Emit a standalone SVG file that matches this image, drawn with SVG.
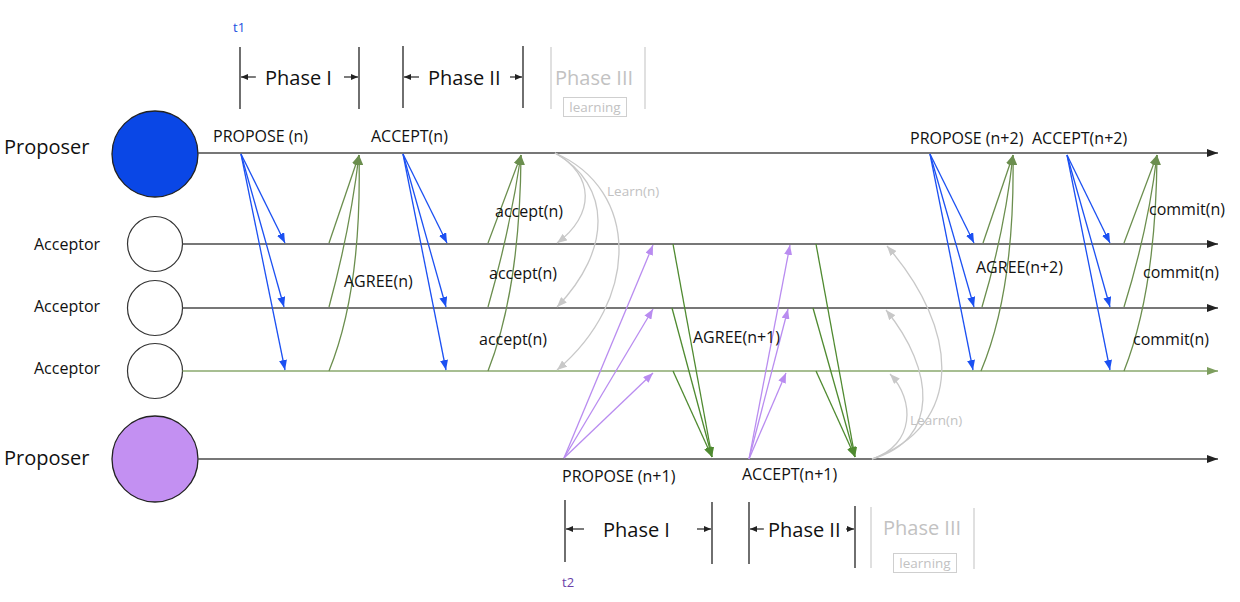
<svg xmlns="http://www.w3.org/2000/svg" width="1240" height="602" viewBox="0 0 1240 602">
<style>
text{font-family:"Open Sans","Liberation Sans",sans-serif;fill:#111}
.lbl{font-size:16px}
.big{font-size:20px}
.gry{fill:#c2c2c2}
.sm{font-size:13.5px}
.life{fill:none;stroke:#4a4a4a;stroke-width:1.4;marker-end:url(#mk)}
.bl{fill:none;stroke:#1b50f2;stroke-width:1.3;marker-end:url(#mb)}
.gr{fill:none;stroke:#6b8e4e;stroke-width:1.3;marker-end:url(#mg)}
.dg{fill:none;stroke:#4f8a30;stroke-width:1.3;marker-end:url(#md)}
.pu{fill:none;stroke:#b98cf0;stroke-width:1.3;marker-end:url(#mp)}
.gy{fill:none;stroke:#c8c8c8;stroke-width:1.3;marker-end:url(#my)}
.bar{stroke:#222;stroke-width:1.3}
.gbar{stroke:#cfcfcf;stroke-width:1.3}
.pa{stroke:#222;stroke-width:1.2;marker-end:url(#ms)}
</style>
<defs>
<marker id="mk" markerUnits="userSpaceOnUse" markerWidth="11" markerHeight="8" refX="11" refY="4" orient="auto"><path d="M0,0L11,4L0,8z" fill="#222"/></marker>
<marker id="mb" markerUnits="userSpaceOnUse" markerWidth="10" markerHeight="8" refX="10" refY="4" orient="auto"><path d="M0,0L10,4L0,8z" fill="#1b50f2"/></marker>
<marker id="mg" markerUnits="userSpaceOnUse" markerWidth="10" markerHeight="8" refX="10" refY="4" orient="auto"><path d="M0,0L10,4L0,8z" fill="#6b8e4e"/></marker>
<marker id="md" markerUnits="userSpaceOnUse" markerWidth="10" markerHeight="8" refX="10" refY="4" orient="auto"><path d="M0,0L10,4L0,8z" fill="#4f8a30"/></marker>
<marker id="mp" markerUnits="userSpaceOnUse" markerWidth="10" markerHeight="8" refX="10" refY="4" orient="auto"><path d="M0,0L10,4L0,8z" fill="#b98cf0"/></marker>
<marker id="my" markerUnits="userSpaceOnUse" markerWidth="10" markerHeight="8" refX="10" refY="4" orient="auto"><path d="M0,0L10,4L0,8z" fill="#c8c8c8"/></marker>
<marker id="ml" markerUnits="userSpaceOnUse" markerWidth="11" markerHeight="8" refX="11" refY="4" orient="auto"><path d="M0,0L11,4L0,8z" fill="#7d9e5e"/></marker>
<marker id="ms" markerUnits="userSpaceOnUse" markerWidth="7" markerHeight="6" refX="7" refY="3" orient="auto"><path d="M0,0L7,3L0,6z" fill="#222"/></marker>
</defs>
<rect width="1240" height="602" fill="#fff"/>

<g id="phases-top">
<text x="233" y="32" font-size="13" style="fill:#2050e0">t1</text>
<line class="bar" x1="240" y1="47" x2="240" y2="109"/>
<line class="bar" x1="359" y1="47" x2="359" y2="109"/>
<line class="pa" x1="256" y1="77" x2="241" y2="77"/>
<line class="pa" x1="344" y1="77" x2="358" y2="77"/>
<text class="big" x="265" y="85">Phase I</text>
<line class="bar" x1="403" y1="46" x2="403" y2="108"/>
<line class="bar" x1="523" y1="46" x2="523" y2="108"/>
<line class="pa" x1="419" y1="77" x2="404" y2="77"/>
<line class="pa" x1="510" y1="77" x2="522" y2="77"/>
<text class="big" x="428" y="85">Phase II</text>
<line class="gbar" x1="551" y1="47" x2="551" y2="109"/>
<line class="gbar" x1="645" y1="47" x2="645" y2="109"/>
<text class="big gry" x="555" y="85">Phase III</text>
<rect x="563.5" y="97.5" width="63" height="19" fill="none" stroke="#cfcfcf" stroke-width="1"/>
<text class="sm gry" x="595" y="112" text-anchor="middle">learning</text>
</g>

<g id="phases-bottom">
<line class="bar" x1="565" y1="500" x2="565" y2="562"/>
<line class="bar" x1="712" y1="502" x2="712" y2="564"/>
<line class="pa" x1="584" y1="529" x2="566" y2="529"/>
<line class="pa" x1="697" y1="529" x2="711" y2="529"/>
<text class="big" x="603" y="537">Phase I</text>
<line class="bar" x1="749" y1="502" x2="749" y2="564"/>
<line class="bar" x1="855" y1="506" x2="855" y2="568"/>
<line class="pa" x1="764" y1="529" x2="750" y2="529"/>
<line class="pa" x1="846" y1="529" x2="854" y2="529"/>
<text class="big" x="768" y="537">Phase II</text>
<line class="gbar" x1="871" y1="507" x2="871" y2="568"/>
<line class="gbar" x1="974" y1="508" x2="974" y2="569"/>
<text class="big gry" x="883" y="535">Phase III</text>
<rect x="893.5" y="553.5" width="63" height="19" fill="none" stroke="#cfcfcf" stroke-width="1"/>
<text class="sm gry" x="925" y="568" text-anchor="middle">learning</text>
<text x="562" y="587" font-size="13" style="fill:#6b3fa8">t2</text>
</g>

<g id="proposer1">
<text x="4" y="154" class="big">Proposer</text>
<circle cx="155" cy="154" r="43" fill="#0a47e6" stroke="#222" stroke-width="1.3"/>
</g>
<g id="acceptor1">
<text x="34" y="250" class="lbl">Acceptor</text>
<circle cx="155" cy="244" r="27.5" fill="#fff" stroke="#333" stroke-width="1.2"/>
</g>
<g id="acceptor2">
<text x="34" y="312" class="lbl">Acceptor</text>
<circle cx="155" cy="308" r="27.5" fill="#fff" stroke="#333" stroke-width="1.2"/>
</g>
<g id="acceptor3">
<text x="34" y="374" class="lbl">Acceptor</text>
<circle cx="155" cy="371" r="27.5" fill="#fff" stroke="#333" stroke-width="1.2"/>
</g>
<g id="proposer2">
<text x="4" y="465" class="big">Proposer</text>
<circle cx="155" cy="459" r="43" fill="#c390f2" stroke="#222" stroke-width="1.3"/>
</g>

<g id="connectors">
<g id="lifelines">
<line class="life" x1="198" y1="153" x2="1218" y2="153"/>
<line class="life" x1="182.5" y1="244" x2="1218" y2="244"/>
<line class="life" x1="182.5" y1="308" x2="1218" y2="308"/>
<line x1="182.5" y1="371" x2="1218" y2="371" stroke="#8aa86e" stroke-width="1.4" marker-end="url(#ml)"/>
<line class="life" x1="198" y1="459" x2="1218" y2="459"/>
</g>
<g id="round-n">
<path class="bl" d="M241,154L285,243"/>
<path class="bl" d="M241,154L284,307"/>
<path class="bl" d="M241,154L285,370"/>
<path class="gr" d="M329,243L359,155"/>
<path class="gr" d="M329,307Q350,230 359,155"/>
<path class="gr" d="M329,371Q362,290 359,155"/>
<path class="bl" d="M403,154L447,243"/>
<path class="bl" d="M403,154L446,307"/>
<path class="bl" d="M403,154L446,370"/>
<path class="gr" d="M488,243L521,155"/>
<path class="gr" d="M488,307Q510,230 521,155"/>
<path class="gr" d="M488,371Q520,290 521,155"/>
<path class="gy" d="M555,153C595,175 595,215 557,243"/>
<path class="gy" d="M555,153C612,185 612,250 557,307"/>
<path class="gy" d="M555,153C640,190 640,300 557,370"/>
</g>
<g id="round-n1">
<path class="pu" d="M564,458L653,245"/>
<path class="pu" d="M564,458L653,309"/>
<path class="pu" d="M564,458L653,373"/>
<path class="dg" d="M673,244L712,457"/>
<path class="dg" d="M672,308L712,457"/>
<path class="dg" d="M673,371L712,457"/>
<path class="pu" d="M749,459L790,245"/>
<path class="pu" d="M749,459L788,309"/>
<path class="pu" d="M749,459L786,373"/>
<path class="dg" d="M816,244L855,457"/>
<path class="dg" d="M813,308L855,457"/>
<path class="dg" d="M816,371L855,457"/>
<path class="gy" d="M872,459C965,425 960,330 887,246"/>
<path class="gy" d="M872,459C940,440 935,370 886,310"/>
<path class="gy" d="M872,459C915,445 915,400 890,374"/>
</g>
<g id="round-n2">
<path class="bl" d="M930,154L974,243"/>
<path class="bl" d="M930,154L974,307"/>
<path class="bl" d="M930,154L973,370"/>
<path class="gr" d="M983,243L1013,155"/>
<path class="gr" d="M982,307Q1005,230 1013,155"/>
<path class="gr" d="M981,371Q1015,290 1013,155"/>
<path class="bl" d="M1067,155L1110,243"/>
<path class="bl" d="M1067,155L1110,307"/>
<path class="bl" d="M1067,155L1110,370"/>
<path class="gr" d="M1124,243L1157,155"/>
<path class="gr" d="M1124,307Q1148,230 1157,155"/>
<path class="gr" d="M1124,371Q1156,290 1157,155"/>
</g>
</g>

<g id="labels">
<text class="lbl" x="213" y="142">PROPOSE (n)</text>
<text class="lbl" x="371" y="142">ACCEPT(n)</text>
<text class="lbl" x="344" y="287">AGREE(n)</text>
<text class="lbl" x="495" y="217">accept(n)</text>
<text class="lbl" x="489" y="279">accept(n)</text>
<text class="lbl" x="479" y="345">accept(n)</text>
<text class="sm gry" x="607" y="196">Learn(n)</text>
<text class="lbl" x="693" y="343">AGREE(n+1)</text>
<text class="lbl" x="562" y="482">PROPOSE (n+1)</text>
<text class="lbl" x="742" y="480">ACCEPT(n+1)</text>
<text class="sm gry" x="910" y="425">Learn(n)</text>
<text class="lbl" x="910" y="144">PROPOSE (n+2)</text>
<text class="lbl" x="1032" y="144">ACCEPT(n+2)</text>
<text class="lbl" x="976" y="273">AGREE(n+2)</text>
<text class="lbl" x="1149" y="215">commit(n)</text>
<text class="lbl" x="1143" y="278">commit(n)</text>
<text class="lbl" x="1133" y="345">commit(n)</text>
</g>
</svg>
